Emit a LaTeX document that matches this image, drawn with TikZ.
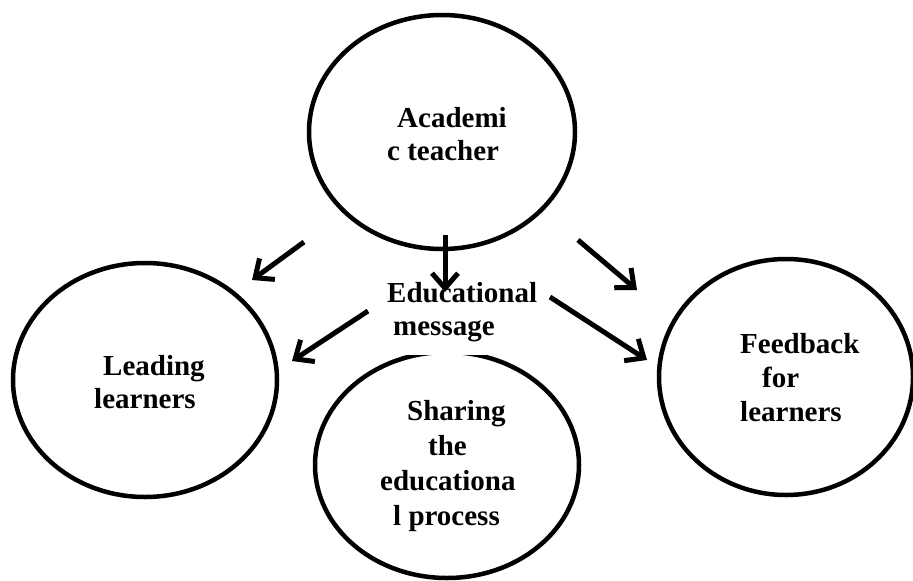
\documentclass[tikz,border=0pt]{standalone}
\usepackage{fontspec}
\setmainfont{Liberation Serif}
\usetikzlibrary{shapes.geometric,arrows.meta}
\newcommand{\lines}[3]{\parbox[t]{#1}{\fontsize{29}{#2}\selectfont\raggedright #3}}
\tikzset{
  bubble/.style={draw, ellipse, line width=4.5pt, inner sep=0pt},
  words/.style={anchor=base west, inner sep=0pt, font=\bfseries},
  flow/.style={line width=5pt, -{Straight Barb[length=15pt,width=26pt]}},
}
\begin{document}
\begin{tikzpicture}[x=1pt,y=-1pt]
\useasboundingbox (0,0) rectangle (913,581);
% ellipses
\node[bubble, minimum width=266pt, minimum height=234pt] (top) at (442,132) {};
\node[bubble, minimum width=264pt, minimum height=234pt] (left) at (145,380) {};
\node[bubble, minimum width=264pt, minimum height=226pt] (bottom) at (447,465) {};
\node[bubble, minimum width=254pt, minimum height=236pt] (right) at (786,377) {};
% texts
\node[words] (ttop) at (387,127) {\lines{200pt}{33pt}{\hspace*{10pt}Academi\\c teacher}};
\node[words] (tleft) at (94,375) {\lines{200pt}{33pt}{\hspace*{9pt}Leading\\learners}};
\node[words] (tright) at (740,353) {\lines{160pt}{34pt}{Feedback\\\hspace*{22pt}for\\learners}};
\node[words] (tbottom) at (380,420) {\lines{200pt}{35pt}{\hspace*{27pt}Sharing\\\hspace*{48pt}the\\educationa\\\hspace*{13pt}l process}};
\node[words, fill=white, inner xsep=2pt, inner ysep=14pt] (msg) at (385,302) {\lines{152pt}{33pt}{Educational\\\hspace*{6pt}message}};
% arrow end points
\coordinate (a1s) at (304,242); \coordinate (a1e) at (252,280);
\coordinate (a2s) at (368,311); \coordinate (a2e) at (292,361);
\coordinate (a3s) at (445,235); \coordinate (a3e) at (445,292);
\coordinate (a4s) at (578,240); \coordinate (a4e) at (637,290);
\coordinate (a5s) at (550,297); \coordinate (a5e) at (647,360);
\draw[flow] (a1s) -- (a1e);
\draw[flow] (a2s) -- (a2e);
\draw[flow] (a3s) -- (a3e);
\draw[flow] (a4s) -- (a4e);
\draw[flow] (a5s) -- (a5e);
\end{tikzpicture}
\end{document}
